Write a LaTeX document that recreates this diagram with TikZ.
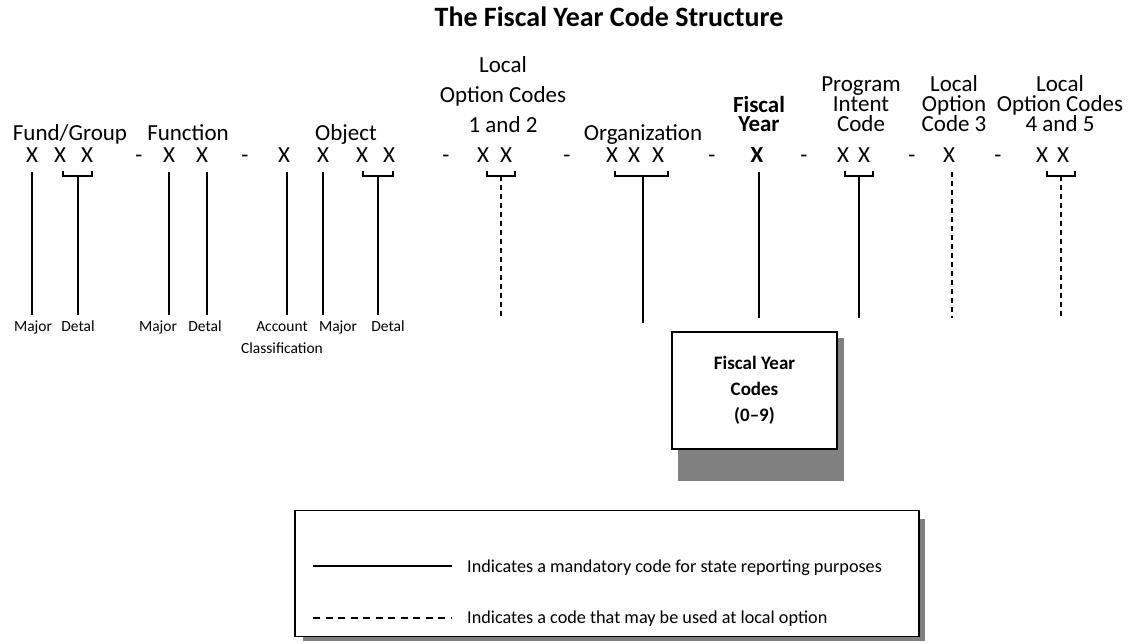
\documentclass[tikz,border=0pt]{standalone}
\usepackage{fontspec}
\setmainfont{Carlito}
\newcommand\serre{\lineskiplimit-50pt\relax}

\begin{document}
\begin{tikzpicture}[x=1pt,y=-1pt]
\tikzset{lbl/.style={anchor=base, inner sep=0pt, align=center,
    font=\fontsize{23}{20}\selectfont\serre},
  xcode/.style={anchor=base, inner sep=0pt, font=\fontsize{23}{23}\selectfont},
  petit/.style={anchor=base, inner sep=0pt, align=center,
    font=\fontsize{15.5}{21}\selectfont\serre},
  legtxt/.style={anchor=base west, inner sep=0pt, font=\fontsize{18.2}{20}\selectfont},
  trait/.style={line width=1.3pt},
  optline/.style={line width=1.3pt, dash pattern=on 5pt off 4pt},
  ombre/.style={fill=black!50},
  cadre/.style={draw, line width=1.6pt, fill=white, inner sep=0pt}}
\useasboundingbox (0,0) rectangle (1130,644);

% title
\node[anchor=base, inner sep=0pt, font=\bfseries\fontsize{28}{28}\selectfont] (titre) at (609,27) {The Fiscal Year Code Structure};

% field names
\node[lbl] (fund) at (70,141) {Fund/Group};
\node[lbl] (func) at (188,141) {Function};
\node[lbl] (obj) at (346,141) {Object};
\node[lbl, font=\fontsize{23}{30}\selectfont\serre] (loc12) at (503,133) {Local\\Option Codes\\1 and 2};
\node[lbl] (org) at (643,141) {Organization};
\node[lbl, font=\bfseries\fontsize{23}{19.5}\selectfont\serre] (fy) at (759,132) {Fiscal\\Year};
\node[lbl] (prog) at (861,132) {Program\\Intent\\Code};
\node[lbl] (loc3) at (954,132) {Local\\Option\\Code 3};
\node[lbl] (loc45) at (1060,132) {Local\\Option Codes\\4 and 5};

% the code digits
\node[xcode] (fg1) at (32,163) {X};
\node[xcode] (fg2) at (60,163) {X};
\node[xcode] (fg3) at (87,163) {X};
\node[xcode] (s1) at (139,163) {-};
\node[xcode] (fn1) at (169,163) {X};
\node[xcode] (fn2) at (202,163) {X};
\node[xcode] (s2) at (245,163) {-};
\node[xcode] (ob1) at (284,163) {X};
\node[xcode] (ob2) at (323,163) {X};
\node[xcode] (ob3) at (362,163) {X};
\node[xcode] (ob4) at (389,163) {X};
\node[xcode] (s3) at (446,163) {-};
\node[xcode] (la1) at (483,163) {X};
\node[xcode] (la2) at (506,163) {X};
\node[xcode] (s4) at (567,163) {-};
\node[xcode] (or1) at (612,163) {X};
\node[xcode] (or2) at (634,163) {X};
\node[xcode] (or3) at (658,163) {X};
\node[xcode] (s5) at (712,163) {-};
\node[xcode, font=\bfseries\fontsize{23}{23}\selectfont] (fy1) at (757,163) {X};
\node[xcode] (s6) at (804,163) {-};
\node[xcode] (pi1) at (843,163) {X};
\node[xcode] (pi2) at (864,163) {X};
\node[xcode] (s7) at (912,163) {-};
\node[xcode] (lb1) at (949,163) {X};
\node[xcode] (s8) at (998,163) {-};
\node[xcode] (lc1) at (1042,163) {X};
\node[xcode] (lc2) at (1063,163) {X};

% tops of the lines
\coordinate (bas) at (0,315);
\coordinate (basd) at (0,318);
\coordinate (fgMaj) at (32,172);
\coordinate (fgDet) at (78,176);
\coordinate (fnMaj) at (169,172);
\coordinate (fnDet) at (207,172);
\coordinate (obAcc) at (287,172);
\coordinate (obMaj) at (323,172);
\coordinate (obDet) at (378,176);
\coordinate (laD) at (501,176);
\coordinate (orD) at (643,176);
\coordinate (fyD) at (759,172);
\coordinate (piD) at (859,176);
\coordinate (lbD) at (952,172);
\coordinate (lcD) at (1061,176);

% brackets
\draw[trait] (63,171) |- (fgDet) -| (92,171);
\draw[trait] (363,171) |- (obDet) -| (393,171);
\draw[trait] (487,171) |- (laD) -| (515,171);
\draw[trait] (615,171) |- (orD) -| (668,171);
\draw[trait] (845,171) |- (piD) -| (873,171);
\draw[trait] (1047,171) |- (lcD) -| (1075,171);

% mandatory codes
\draw[trait] (fgMaj) -- (fgMaj |- bas);
\draw[trait] (fgDet) -- (fgDet |- bas);
\draw[trait] (fnMaj) -- (fnMaj |- bas);
\draw[trait] (fnDet) -- (fnDet |- bas);
\draw[trait] (obAcc) -- (obAcc |- bas);
\draw[trait] (obMaj) -- (obMaj |- bas);
\draw[trait] (obDet) -- (obDet |- bas);
\draw[trait] (orD) -- ++(0,147);
\draw[trait] (fyD) -- (fyD |- basd);
\draw[trait] (piD) -- (piD |- basd);

% local option codes
\draw[optline] (laD) -- (laD |- basd);
\draw[optline] (lbD) -- (lbD |- basd);
\draw[optline] (lcD) -- (lcD |- basd);

% sub labels
\node[petit] (maj1) at (33,332) {Major};
\node[petit] (det1) at (78,332) {Detal};
\node[petit] (maj2) at (158,332) {Major};
\node[petit] (det2) at (205,332) {Detal};
\node[petit] (acct) at (282,353) {Account\\Classification};
\node[petit] (maj3) at (338,332) {Major};
\node[petit] (det3) at (388,332) {Detal};

% fiscal year codes box
\fill[ombre] (678,338) rectangle (844,481);
\node[cadre, minimum width=165pt, minimum height=117pt, align=center,
  font=\bfseries\fontsize{19}{26}\selectfont] (fycodes) at (754.5,390.5) {Fiscal Year\\Codes\\(0--9)};

% legend
\fill[ombre] (303,519) rectangle (925,641);
\node[cadre, minimum width=624pt, minimum height=126pt] (legende) at (607,573.5) {};
\coordinate (l1a) at (313,566);
\coordinate (l1b) at (452,566);
\coordinate (l2a) at (313,618);
\coordinate (l2b) at (452,618);
\draw[trait] (l1a) -- (l1b);
\draw[line width=1.3pt, dash pattern=on 7pt off 5.5pt] (l2a) -- (l2b);
\node[legtxt] (mand) at (467,572) {Indicates a mandatory code for state reporting purposes};
\node[legtxt] (locopt) at (467,623) {Indicates a code that may be used at local option};
\end{tikzpicture}
\end{document}
